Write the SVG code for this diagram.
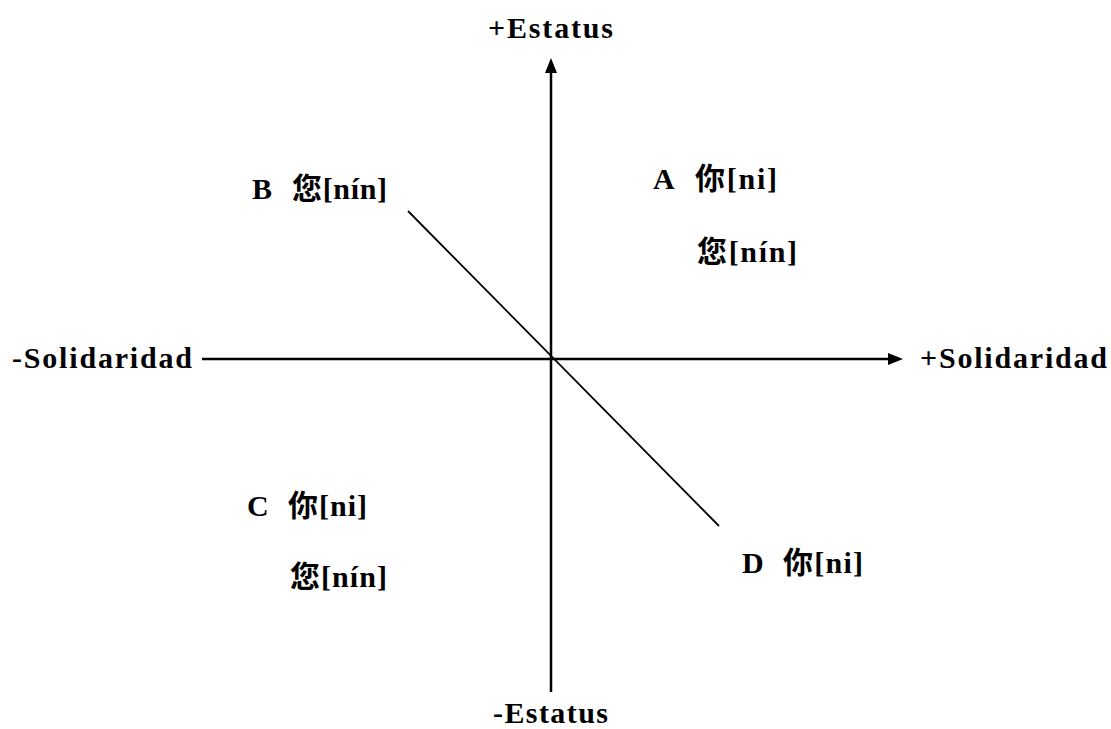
<svg xmlns="http://www.w3.org/2000/svg" width="1111" height="729" viewBox="0 0 1111 729">
<style>
.t{font-family:"Liberation Serif","Noto Sans CJK SC",serif;font-weight:bold;font-size:30px;fill:#000}
.ax{stroke:#000;stroke-width:2.5;fill:none}
.dg{stroke:#000;stroke-width:1.8;fill:none}
</style>
<rect width="1111" height="729" fill="#fff"/>
<g id="connectors">
<line class="ax" x1="551" y1="692" x2="551" y2="70"/>
<polygon points="551,58 545,73 557,73" fill="#000"/>
<line class="ax" x1="202" y1="359" x2="890" y2="359"/>
<polygon points="903,359 888,353 888,365" fill="#000"/>
<line class="dg" x1="408" y1="211" x2="719" y2="526"/>
</g>
<g id="estatus-pos"><text class="t" x="488" y="38" textLength="125">+Estatus</text></g>
<g id="estatus-neg"><text class="t" x="493" y="723" textLength="115">-Estatus</text></g>
<g id="solidaridad-neg"><text class="t" x="12" y="368" textLength="180">-Solidaridad</text></g>
<g id="solidaridad-pos"><text class="t" x="920" y="368" textLength="187">+Solidaridad</text></g>
<g id="node-B"><text class="t" x="252" y="199">B</text><text class="t" x="292" y="199" textLength="95">您[nín]</text></g>
<g id="node-A"><text class="t" x="653" y="189">A</text><text class="t" x="695" y="189" textLength="82">你[ni]</text><text class="t" x="697" y="262" textLength="100">您[nín]</text></g>
<g id="node-C"><text class="t" x="247" y="516">C</text><text class="t" x="288" y="516" textLength="79">你[ni]</text><text class="t" x="290" y="587" textLength="97">您[nín]</text></g>
<g id="node-D"><text class="t" x="742" y="573">D</text><text class="t" x="783" y="573" textLength="80">你[ni]</text></g>
</svg>
